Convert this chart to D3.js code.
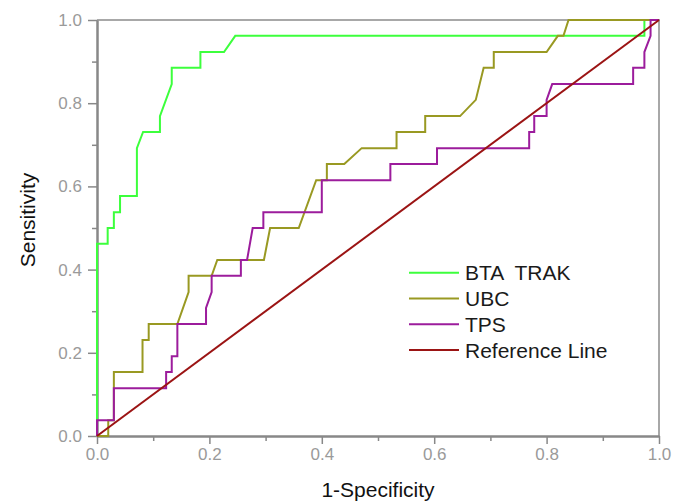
<!DOCTYPE html>
<html>
<head>
<meta charset="utf-8">
<script src="https://cdn.jsdelivr.net/npm/d3@7"></script>
<style>
  body { margin: 0; background: #fff; }
  svg { font-family: "Liberation Sans", Arial, sans-serif; }
</style>
</head>
<body>
<div id="chart"></div>
<script>
// Dados: [1-especificidade, sensibilidade]
var btaTrak = [[0,0],[0,0.462],[0.019,0.462],[0.019,0.5],[0.030,0.5],[0.030,0.538],[0.041,0.538],[0.041,0.577],
  [0.071,0.577],[0.071,0.692],[0.082,0.731],[0.112,0.731],[0.112,0.769],[0.133,0.846],[0.133,0.885],[0.184,0.885],
  [0.184,0.923],[0.226,0.923],[0.246,0.962],[0.974,0.962],[0.974,1],[1,1]];

var ubc = [[0,0],[0.020,0],[0.020,0.038],[0.030,0.038],[0.030,0.154],[0.081,0.154],[0.081,0.231],[0.092,0.231],
  [0.092,0.269],[0.143,0.269],[0.163,0.346],[0.163,0.385],[0.204,0.385],[0.214,0.423],[0.297,0.423],[0.308,0.5],
  [0.359,0.5],[0.390,0.615],[0.409,0.615],[0.409,0.654],[0.440,0.654],[0.471,0.692],[0.533,0.692],[0.533,0.731],
  [0.584,0.731],[0.584,0.769],[0.646,0.769],[0.674,0.808],[0.688,0.885],[0.706,0.885],[0.706,0.923],[0.800,0.923],
  [0.820,0.962],[0.830,0.962],[0.839,1],[1,1]];

var tps = [[0,0],[0,0.038],[0.030,0.038],[0.030,0.115],[0.123,0.115],[0.123,0.154],[0.133,0.154],[0.133,0.192],
  [0.143,0.192],[0.143,0.269],[0.194,0.269],[0.194,0.308],[0.204,0.346],[0.204,0.385],[0.256,0.385],[0.256,0.423],
  [0.267,0.423],[0.277,0.5],[0.296,0.5],[0.296,0.538],[0.400,0.538],[0.400,0.615],[0.522,0.615],[0.522,0.654],
  [0.605,0.654],[0.605,0.692],[0.769,0.692],[0.769,0.731],[0.778,0.731],[0.778,0.769],[0.800,0.769],[0.800,0.808],
  [0.810,0.846],[0.954,0.846],[0.954,0.885],[0.974,0.885],[0.974,0.923],[0.985,0.962],[0.985,1],[1,1]];

var referenceLine = [[0,0],[1,1]];

var seriesNames = ["BTA  TRAK", "UBC", "TPS", "Reference Line"];
var seriesColors = ["#3cff3c", "#999922", "#9c1c9c", "#9b1414"];
var majorTicks = [0, 0.2, 0.4, 0.6, 0.8, 1.0];
var minorTicks = [0.1, 0.3, 0.5, 0.7, 0.9];

// Tamanho do svg
var w = 673, h = 502;
var margin = {top: 20, right: 14, bottom: 66, left: 97};
var width = w - margin.left - margin.right;
var height = h - margin.top - margin.bottom;

var svg = d3.select("#chart").append("svg")
  .attr("width", w)
  .attr("height", h);

var g = svg.append("g")
  .attr("transform", "translate(" + margin.left + "," + margin.top + ")");

var x = d3.scaleLinear().domain([0, 1]).range([0, width]);
var y = d3.scaleLinear().domain([0, 1]).range([height, 0]);

// Moldura (topo e direita)
g.append("path")
  .attr("d", "M0,0H" + width + "V" + height)
  .attr("fill", "none")
  .attr("stroke", "#a8a8a8")
  .attr("stroke-width", 2);

// Eixos
function styleAxis(sel) {
  sel.select(".domain").attr("stroke", "#888").attr("stroke-width", 2);
  sel.selectAll(".tick line").attr("stroke", "#888").attr("stroke-width", 1.5);
  sel.selectAll(".tick text").attr("fill", "#9a9a9a").attr("font-size", "17px");
}

var xAxis = g.append("g")
  .attr("transform", "translate(0," + height + ")")
  .call(d3.axisBottom(x).tickValues(majorTicks).tickFormat(d3.format(".1f")).tickSize(8).tickPadding(4).tickSizeOuter(0));
styleAxis(xAxis);
var xMinor = g.append("g")
  .attr("transform", "translate(0," + height + ")")
  .call(d3.axisBottom(x).tickValues(minorTicks).tickFormat("").tickSize(5).tickSizeOuter(0));
styleAxis(xMinor);

var yAxis = g.append("g")
  .call(d3.axisLeft(y).tickValues(majorTicks).tickFormat(d3.format(".1f")).tickSize(9).tickPadding(6).tickSizeOuter(0));
styleAxis(yAxis);
var yMinor = g.append("g")
  .call(d3.axisLeft(y).tickValues(minorTicks).tickFormat("").tickSize(5).tickSizeOuter(0));
styleAxis(yMinor);

// Linhas
var line = d3.line()
  .x(function(d) { return x(d[0]); })
  .y(function(d) { return y(d[1]); });

var allSeries = [btaTrak, ubc, tps, referenceLine];
allSeries.forEach(function(s, i) {
  g.append("path")
    .datum(s)
    .attr("d", line)
    .attr("fill", "none")
    .attr("stroke", seriesColors[i])
    .attr("stroke-width", 2)
    .attr("stroke-linejoin", "miter");
});

// Legenda
var legend = g.append("g").attr("transform", "translate(" + (409 - margin.left) + "," + (272.7 - margin.top) + ")");
seriesNames.forEach(function(name, i) {
  var yy = i * 25.8;
  legend.append("line")
    .attr("x1", 0).attr("x2", 50)
    .attr("y1", yy).attr("y2", yy)
    .attr("stroke", seriesColors[i])
    .attr("stroke-width", 2);
  legend.append("text")
    .attr("x", 56)
    .attr("y", yy)
    .attr("dy", "0.36em")
    .attr("font-size", "21px")
    .attr("fill", "#1a1a1a")
    .style("white-space", "pre")
    .text(name);
});

// Titulos dos eixos
svg.append("text")
  .attr("x", margin.left + width / 2)
  .attr("y", 497)
  .attr("text-anchor", "middle")
  .attr("font-size", "21px")
  .attr("fill", "#111")
  .text("1-Specificity");

svg.append("text")
  .attr("transform", "translate(35," + 220 + ") rotate(-90)")
  .attr("text-anchor", "middle")
  .attr("font-size", "21px")
  .attr("fill", "#111")
  .text("Sensitivity");
</script>
</body>
</html>
